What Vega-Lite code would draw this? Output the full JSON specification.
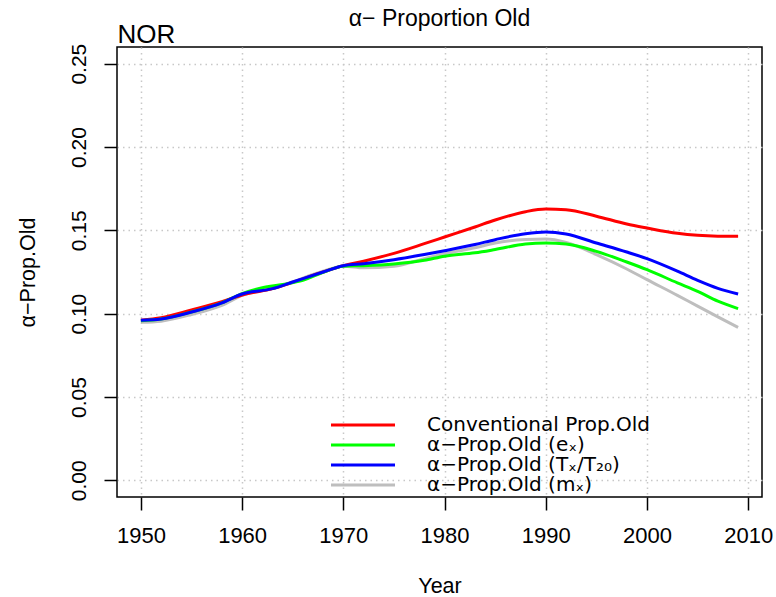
{
  "$schema": "https://vega.github.io/schema/vega-lite/v6.json",
  "width": 645,
  "height": 450,
  "autosize": {"type": "none"},
  "padding": {"left": 117, "top": 47, "right": 14, "bottom": 100},
  "background": "white",
  "title": {"text": "α− Proportion Old", "frame": "group", "anchor": "middle", "fontSize": 23, "font": "Liberation Sans", "fontWeight": "normal", "baseline": "alphabetic", "offset": -28, "color": "black"},
  "config": {
    "view": {"stroke": "black", "strokeWidth": 1.5},
    "font": "Liberation Sans"
  },
  "data": {"values": [
    {"year":1950,"v":0.0948,"s":"mx"},{"year":1952,"v":0.0955,"s":"mx"},{"year":1955,"v":0.0995,"s":"mx"},{"year":1958,"v":0.1050,"s":"mx"},{"year":1960,"v":0.1110,"s":"mx"},{"year":1963,"v":0.1150,"s":"mx"},{"year":1965,"v":0.1192,"s":"mx"},{"year":1968,"v":0.1255,"s":"mx"},{"year":1970,"v":0.1285,"s":"mx"},{"year":1972,"v":0.1275,"s":"mx"},{"year":1975,"v":0.1285,"s":"mx"},{"year":1978,"v":0.1330,"s":"mx"},{"year":1980,"v":0.1360,"s":"mx"},{"year":1983,"v":0.1395,"s":"mx"},{"year":1985,"v":0.1424,"s":"mx"},{"year":1988,"v":0.1445,"s":"mx"},{"year":1990,"v":0.1448,"s":"mx"},{"year":1992,"v":0.1428,"s":"mx"},{"year":1995,"v":0.1354,"s":"mx"},{"year":1998,"v":0.1268,"s":"mx"},{"year":2000,"v":0.1204,"s":"mx"},{"year":2003,"v":0.1110,"s":"mx"},{"year":2005,"v":0.1045,"s":"mx"},{"year":2007,"v":0.0981,"s":"mx"},{"year":2009,"v":0.0918,"s":"mx"},
    {"year":1950,"v":0.0960,"s":"conv"},{"year":1952,"v":0.0975,"s":"conv"},{"year":1955,"v":0.1022,"s":"conv"},{"year":1958,"v":0.1072,"s":"conv"},{"year":1960,"v":0.1112,"s":"conv"},{"year":1963,"v":0.1150,"s":"conv"},{"year":1965,"v":0.1188,"s":"conv"},{"year":1968,"v":0.1250,"s":"conv"},{"year":1970,"v":0.1288,"s":"conv"},{"year":1972,"v":0.1315,"s":"conv"},{"year":1975,"v":0.1362,"s":"conv"},{"year":1978,"v":0.1420,"s":"conv"},{"year":1980,"v":0.1460,"s":"conv"},{"year":1983,"v":0.1520,"s":"conv"},{"year":1985,"v":0.1562,"s":"conv"},{"year":1988,"v":0.1612,"s":"conv"},{"year":1990,"v":0.1628,"s":"conv"},{"year":1992,"v":0.1624,"s":"conv"},{"year":1995,"v":0.1585,"s":"conv"},{"year":1998,"v":0.1538,"s":"conv"},{"year":2000,"v":0.1514,"s":"conv"},{"year":2003,"v":0.1482,"s":"conv"},{"year":2005,"v":0.1470,"s":"conv"},{"year":2007,"v":0.1465,"s":"conv"},{"year":2009,"v":0.1464,"s":"conv"},
    {"year":1950,"v":0.0958,"s":"ex"},{"year":1952,"v":0.0968,"s":"ex"},{"year":1955,"v":0.1010,"s":"ex"},{"year":1958,"v":0.1065,"s":"ex"},{"year":1960,"v":0.1120,"s":"ex"},{"year":1962,"v":0.1155,"s":"ex"},{"year":1964,"v":0.1175,"s":"ex"},{"year":1966,"v":0.1200,"s":"ex"},{"year":1968,"v":0.1248,"s":"ex"},{"year":1970,"v":0.1285,"s":"ex"},{"year":1972,"v":0.1288,"s":"ex"},{"year":1975,"v":0.1298,"s":"ex"},{"year":1978,"v":0.1320,"s":"ex"},{"year":1980,"v":0.1345,"s":"ex"},{"year":1983,"v":0.1365,"s":"ex"},{"year":1985,"v":0.1385,"s":"ex"},{"year":1988,"v":0.1418,"s":"ex"},{"year":1990,"v":0.1424,"s":"ex"},{"year":1992,"v":0.1418,"s":"ex"},{"year":1995,"v":0.1374,"s":"ex"},{"year":1998,"v":0.1310,"s":"ex"},{"year":2000,"v":0.1264,"s":"ex"},{"year":2003,"v":0.1185,"s":"ex"},{"year":2005,"v":0.1134,"s":"ex"},{"year":2007,"v":0.1075,"s":"ex"},{"year":2009,"v":0.1030,"s":"ex"},
    {"year":1950,"v":0.0960,"s":"tx"},{"year":1952,"v":0.0968,"s":"tx"},{"year":1955,"v":0.1010,"s":"tx"},{"year":1958,"v":0.1065,"s":"tx"},{"year":1960,"v":0.1118,"s":"tx"},{"year":1963,"v":0.1150,"s":"tx"},{"year":1965,"v":0.1190,"s":"tx"},{"year":1968,"v":0.1250,"s":"tx"},{"year":1970,"v":0.1288,"s":"tx"},{"year":1972,"v":0.1300,"s":"tx"},{"year":1975,"v":0.1324,"s":"tx"},{"year":1978,"v":0.1355,"s":"tx"},{"year":1980,"v":0.1378,"s":"tx"},{"year":1983,"v":0.1415,"s":"tx"},{"year":1985,"v":0.1444,"s":"tx"},{"year":1988,"v":0.1480,"s":"tx"},{"year":1990,"v":0.1490,"s":"tx"},{"year":1992,"v":0.1478,"s":"tx"},{"year":1995,"v":0.1424,"s":"tx"},{"year":1998,"v":0.1370,"s":"tx"},{"year":2000,"v":0.1330,"s":"tx"},{"year":2003,"v":0.1255,"s":"tx"},{"year":2005,"v":0.1200,"s":"tx"},{"year":2007,"v":0.1152,"s":"tx"},{"year":2009,"v":0.1118,"s":"tx"}
  ]},
  "layer": [
    {
      "transform": [{"filter": "datum.s === 'mx'"}],
      "mark": {"type": "line", "interpolate": "monotone", "strokeWidth": 3},
      "encoding": {
        "x": {"field": "year", "type": "quantitative", "scale": {"domain": [1947.64, 2011.36], "nice": false, "zero": false},
          "axis": {"orient": "top", "domain": false, "grid": false, "ticks": false, "labels": false, "title": "NOR", "titleFont": "Liberation Sans", "titleFontSize": 26, "titleFontWeight": "normal", "titleColor": "black", "titleX": 0, "titleY": -5, "titleAlign": "left", "titleBaseline": "alphabetic", "titleAngle": 0, "titleAnchor": null}},
        "y": {"field": "v", "type": "quantitative", "scale": {"domain": [-0.01, 0.26], "nice": false, "zero": false},
          "axis": {"values": [0, 0.05, 0.1, 0.15, 0.2, 0.25], "format": ".2f", "domain": false, "grid": true, "gridColor": "#c8c8c8", "gridDash": [1.5, 4], "gridWidth": 1.5, "ticks": true, "tickSize": 13, "tickColor": "black", "tickWidth": 1.5, "labelAngle": -90, "labelAlign": "center", "labelBaseline": "alphabetic", "labelPadding": 19, "labelFontSize": 21, "labelColor": "black", "labelFont": "Liberation Sans", "labelOverlap": false, "labelFlush": false, "title": "α−Prop.Old", "titleFont": "Liberation Sans", "titleFontSize": 21.5, "titleFontWeight": "normal", "titleColor": "black", "titleX": -83, "titleY": 225, "titleAngle": -90, "titleAlign": "center", "titleBaseline": "alphabetic", "titleAnchor": null}},
        "color": {"field": "s", "type": "nominal", "scale": {"domain": ["conv", "ex", "tx", "mx"], "range": ["#ff0000", "#00ff00", "#0000ff", "#bebebe"]},
          "legend": {"orient": "none", "legendX": 236, "legendY": 368, "title": null, "symbolType": "M-4,0H4", "symbolSize": 256, "symbolStrokeWidth": 3, "labelFontSize": 20, "labelFont": "DejaVu Sans", "labelColor": "black", "labelOffset": 54, "rowPadding": 0, "padding": 0, "labelLimit": 500,
            "labelExpr": "{'conv':'Conventional Prop.Old','ex':'α−Prop.Old (eₓ)','tx':'α−Prop.Old (Tₓ/T₂₀)','mx':'α−Prop.Old (mₓ)'}[datum.label]"}}
      }
    },
    {
      "transform": [{"filter": "datum.s !== 'mx'"}],
      "mark": {"type": "line", "interpolate": "monotone", "strokeWidth": 3},
      "encoding": {
        "x": {"field": "year", "type": "quantitative", "scale": {"domain": [1947.64, 2011.36], "nice": false, "zero": false},
          "axis": {"orient": "bottom", "values": [1950, 1960, 1970, 1980, 1990, 2000, 2010], "format": "d", "domain": false, "grid": true, "gridColor": "#c8c8c8", "gridDash": [1.5, 4], "gridWidth": 1.5, "ticks": true, "tickSize": 13, "tickColor": "black", "tickWidth": 1.5, "labelFontSize": 22, "labelColor": "black", "labelFont": "Liberation Sans", "labelBaseline": "alphabetic", "labelPadding": 32, "labelFlush": false, "labelOverlap": false, "title": "Year", "titleFont": "Liberation Sans", "titleFontSize": 21.5, "titleFontWeight": "normal", "titleColor": "black", "titleX": 322.5, "titleY": 95, "titleAlign": "center", "titleBaseline": "alphabetic", "titleAnchor": null}},
        "y": {"field": "v", "type": "quantitative", "scale": {"domain": [-0.01, 0.26], "nice": false, "zero": false},
          "axis": {"values": [0, 0.05, 0.1, 0.15, 0.2, 0.25], "format": ".2f", "domain": false, "grid": true, "gridColor": "#c8c8c8", "gridDash": [1.5, 4], "gridWidth": 1.5, "ticks": true, "tickSize": 13, "tickColor": "black", "tickWidth": 1.5, "labelAngle": -90, "labelAlign": "center", "labelBaseline": "alphabetic", "labelPadding": 19, "labelFontSize": 21, "labelColor": "black", "labelFont": "Liberation Sans", "labelOverlap": false, "labelFlush": false, "title": "α−Prop.Old", "titleFont": "Liberation Sans", "titleFontSize": 21.5, "titleFontWeight": "normal", "titleColor": "black", "titleX": -83, "titleY": 225, "titleAngle": -90, "titleAlign": "center", "titleBaseline": "alphabetic", "titleAnchor": null}},
        "color": {"field": "s", "type": "nominal", "scale": {"domain": ["conv", "ex", "tx", "mx"], "range": ["#ff0000", "#00ff00", "#0000ff", "#bebebe"]},
          "legend": {"orient": "none", "legendX": 236, "legendY": 368, "title": null, "symbolType": "M-4,0H4", "symbolSize": 256, "symbolStrokeWidth": 3, "labelFontSize": 20, "labelFont": "DejaVu Sans", "labelColor": "black", "labelOffset": 54, "rowPadding": 0, "padding": 0, "labelLimit": 500,
            "labelExpr": "{'conv':'Conventional Prop.Old','ex':'α−Prop.Old (eₓ)','tx':'α−Prop.Old (Tₓ/T₂₀)','mx':'α−Prop.Old (mₓ)'}[datum.label]"}}
      }
    }
  ],
  "resolve": {"axis": {"x": "independent"}}
}
